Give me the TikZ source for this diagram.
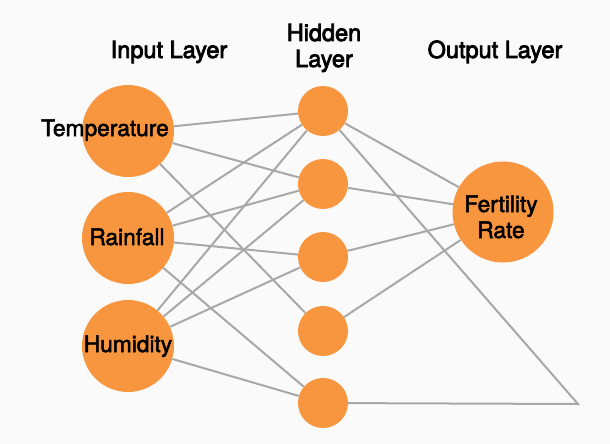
\documentclass[tikz,border=0pt]{standalone}
\usepackage{fontspec}
\setmainfont{TeX Gyre Heros}
\newfontfamily\labelfont{TeX Gyre Heros}[RawFeature={embolden=2.2}]
\newfontfamily\headfont{TeX Gyre Heros}[RawFeature={embolden=3.2}]
\begin{document}
\begin{tikzpicture}[x=1pt,y=-1pt,
  neuron/.style={circle,fill=nodeorange,draw=none,inner sep=0pt},
  bignode/.style={neuron,minimum size=92pt},
  smallnode/.style={neuron,minimum size=50pt},
  outnode/.style={neuron,minimum size=101pt},
  lbl/.style={font=\labelfont\fontsize{22.7}{26}\selectfont,text=black,inner sep=0pt},
  head/.style={font=\headfont\fontsize{23.5}{26}\selectfont,text=black,inner sep=0pt},
  link/.style={draw=linkgray,line width=2pt}]
\definecolor{nodeorange}{HTML}{F7963F}
\definecolor{linkgray}{HTML}{A8A8A8}
\definecolor{paper}{HTML}{FAFAFA}
\fill[paper] (0,0) rectangle (610,444);
\useasboundingbox (0,0) rectangle (610,444);

% layer headings
\node[head,anchor=base] (hin) at (169,58) {Input Layer};
\node[head,anchor=base] (hhid) at (324,41) {Hidden};
\node[head,anchor=base] (hhid2) at (324,67) {Layer};
\node[head,anchor=base] (hout) at (495,58) {Output Layer};

% neurons
\node[bignode] (temp) at (128,131) {};
\node[bignode] (rain) at (128,238) {};
\node[bignode] (hum)  at (128,346) {};
\node[smallnode] (h1) at (323,111) {};
\node[smallnode] (h2) at (323,184) {};
\node[smallnode] (h3) at (323,257) {};
\node[smallnode] (h4) at (323,331) {};
\node[smallnode] (h5) at (323,403) {};
\node[outnode] (out) at (503,212) {};
\coordinate (apex) at (578,404);

% connections
\path[link] (temp) -- (h1);
\path[link] (temp) -- (h2);
\path[link] (temp) -- (h4);
\path[link] (rain) -- (h1);
\path[link] (rain) -- (h2);
\path[link] (rain) -- (h3);
\path[link] (rain) -- (h5);
\path[link] (hum) -- (h1);
\path[link] (hum) -- (h2);
\path[link] (hum) -- (h3);
\path[link] (hum) -- (h5);
\path[link] (h1) -- (out);
\path[link] (h2) -- (out);
\path[link] (h3) -- (out);
\path[link] (h4) -- (out);
\path[link] (h1) -- (apex) -- (h5);

% labels on top of the neurons
\node[lbl,anchor=base] (ltemp) at (105,136) {Temperature};
\node[lbl,anchor=base] (lrain) at (127,245) {Rainfall};
\node[lbl,anchor=base] (lhum) at (128,352) {Humidity};
\node[lbl,anchor=base] (lout) at (501,212) {Fertility};
\node[lbl,anchor=base] (lout2) at (501,238) {Rate};
\end{tikzpicture}
\end{document}
